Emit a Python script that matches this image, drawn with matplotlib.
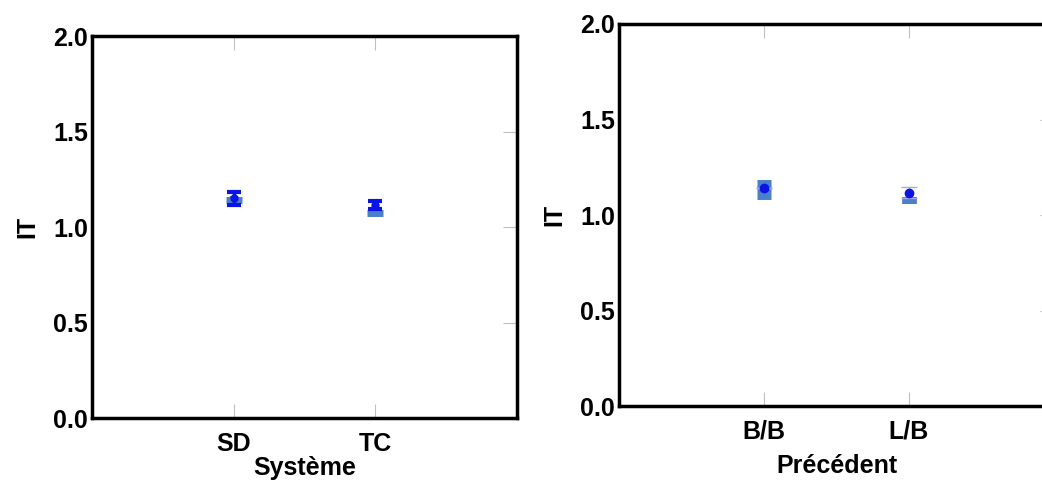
import matplotlib.pyplot as plt

plt.switch_backend('Agg')
plt.rcParams['font.family'] = ['Liberation Sans', 'DejaVu Sans']
plt.rcParams['font.weight'] = 'bold'

# left panel: Système
sys_labels = ["SD", "TC"]
sys_dark_mean = [1.15, 1.115]
sys_dark_err = [0.035, 0.02]
sys_light_mean = [1.14, 1.075]
sys_light_err = [0.02, 0.0]

# right panel: Précédent
prec_labels = ["B/B", "L/B"]
prec_dark_mean = [1.14, 1.117]
prec_faint_err = [0.0, 0.03]
prec_light_mean = [1.135, 1.08]
prec_light_err = [0.035, 0.0]

DARK = "#0a14e6"
LIGHT = "#4a80c8"
FAINT = "#a8a8f0"


def style_axes(ax, labels, xlabel, xlabelpad):
    ax.set_xlim(0, 3)
    ax.set_ylim(0, 2.0)
    ax.set_xticks([1, 2])
    ax.set_xticklabels(labels, fontsize=18, fontweight='bold')
    ax.set_yticks([0, 0.5, 1.0, 1.5, 2.0])
    ax.set_yticklabels(["0.0", "0.5", "1.0", "1.5", "2.0"], fontsize=18, fontweight='bold')
    ax.set_ylabel("IT", fontsize=18, fontweight='bold', labelpad=10)
    ax.set_xlabel(xlabel, fontsize=18, fontweight='bold', labelpad=xlabelpad)
    for s in ax.spines.values():
        s.set_linewidth(2.5)
    ax.tick_params(axis='x', direction='in', length=10, color='#c0c0c0',
                   top=True, bottom=True, pad=10)
    ax.tick_params(axis='y', direction='in', length=10, color='#c0c0c0',
                   left=False, right=True, pad=3)


fig = plt.figure(figsize=(10.42, 4.80), dpi=100)
ax1 = fig.add_axes([0.0883, 0.129, 0.408, 0.796])
ax2 = fig.add_axes([0.594, 0.154, 0.4175, 0.796])
ax2.spines['right'].set_visible(False)

x = [1, 2]

# left panel
ax1.errorbar(x, sys_light_mean, yerr=sys_light_err, fmt='_', color=LIGHT,
             ms=12, mew=5, elinewidth=6, capsize=0, zorder=3)
ax1.errorbar(x, sys_dark_mean, yerr=sys_dark_err, fmt='o', color=DARK,
             ms=5, elinewidth=2.5, capsize=5, capthick=3, zorder=4)
style_axes(ax1, sys_labels, "Système", 0)

# right panel
ax2.errorbar(x, prec_light_mean, yerr=prec_light_err, fmt='_', color=LIGHT,
             ms=10, mew=5, elinewidth=8, capsize=5, capthick=1.2, ecolor=LIGHT, zorder=3)
ax2.errorbar(x, prec_dark_mean, yerr=prec_faint_err, fmt='o', color=DARK,
             ecolor=FAINT, ms=6, elinewidth=1, capsize=6, capthick=1, zorder=4)
style_axes(ax2, prec_labels, "Précédent", 7)

fig.savefig("out.png", dpi=100)
plt.close(fig)
